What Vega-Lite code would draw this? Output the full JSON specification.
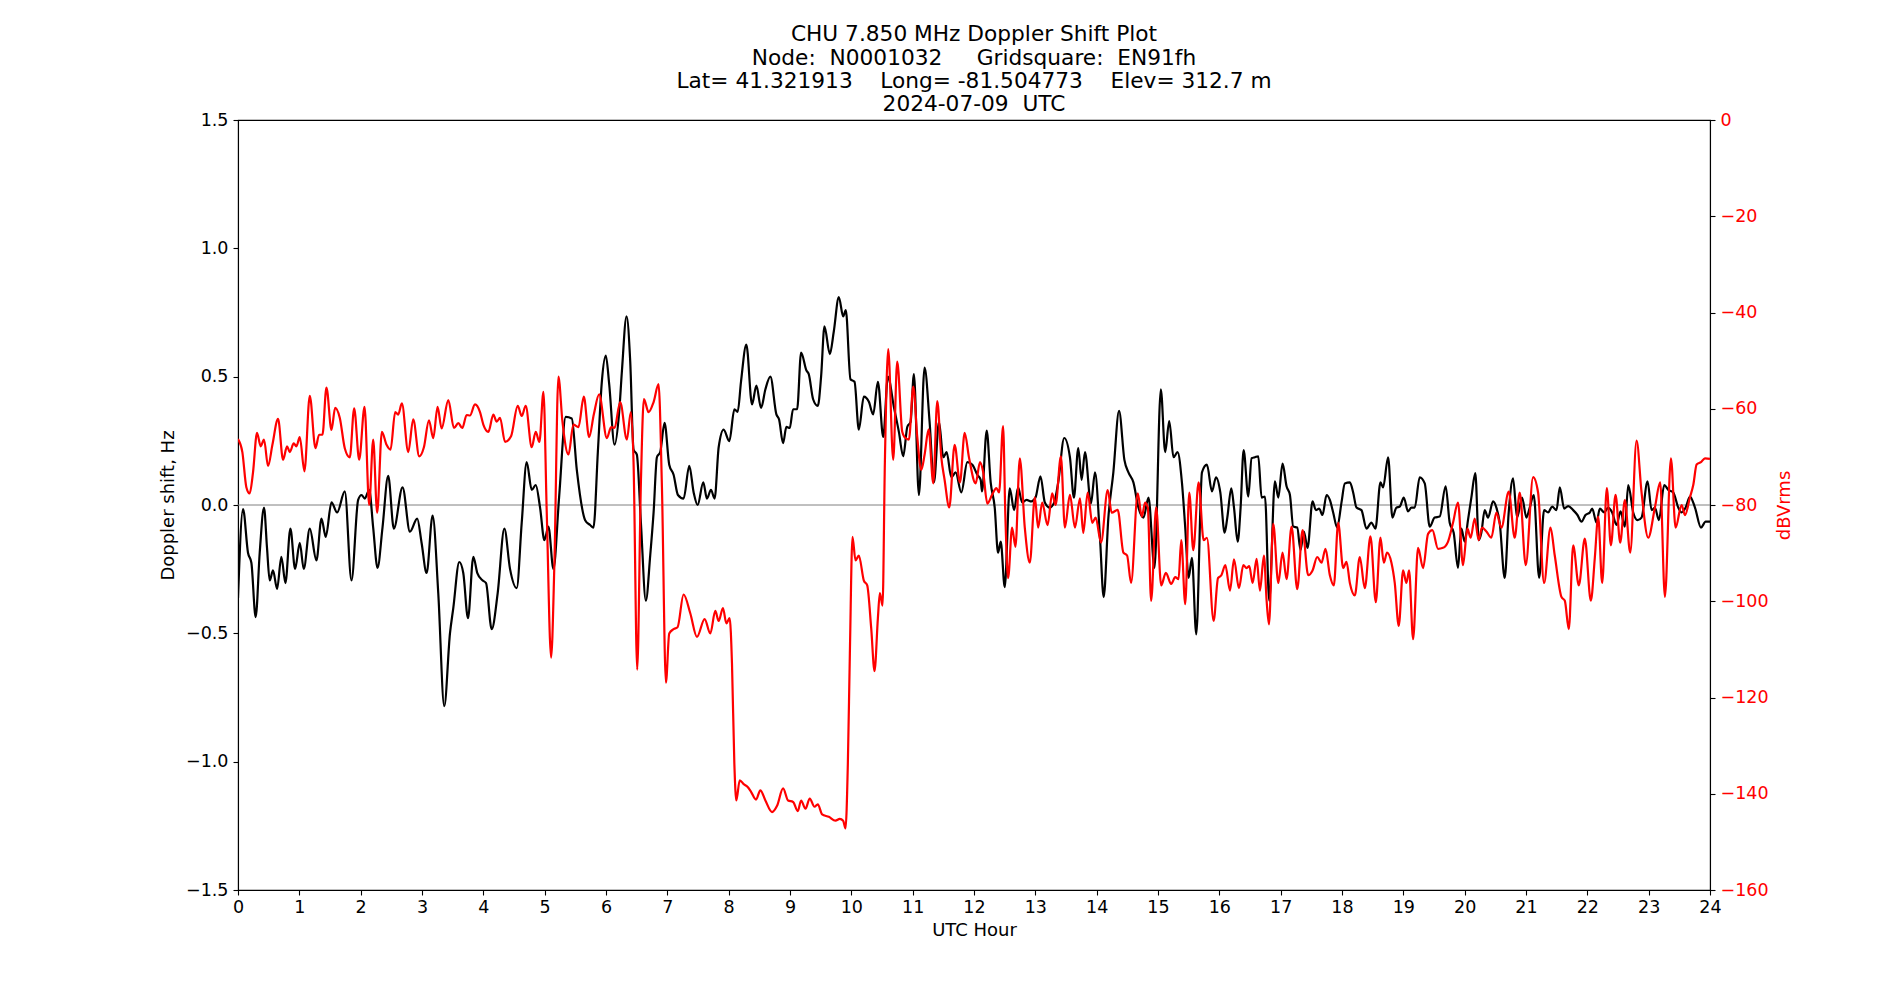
{
  "$schema": "https://vega.github.io/schema/vega-lite/v6.json",
  "autosize": {"type": "none"},
  "padding": {"left": 238, "top": 120, "right": 190, "bottom": 110},
  "width": 1472,
  "height": 770,
  "background": "white",
  "title": {
    "text": ["CHU 7.850 MHz Doppler Shift Plot", "Node:\u00a0 N0001032 \u00a0\u00a0\u00a0 Gridsquare:\u00a0 EN91fh", "Lat= 41.321913 \u00a0\u00a0 Long= -81.504773 \u00a0\u00a0 Elev= 312.7 m", "2024-07-09\u00a0 UTC"],
    "anchor": "middle",
    "frame": "group",
    "font": "DejaVu Sans",
    "fontSize": 21.7,
    "fontWeight": "normal",
    "color": "black",
    "lineHeight": 23.3,
    "offset": -5
  },
  "datasets": {
    "doppler": [
      {"hour":0,"shift":-0.363},{"hour":0.082,"shift":-0.016},{"hour":0.163,"shift":-0.186},{"hour":0.218,"shift":-0.225},{"hour":0.288,"shift":-0.437},{"hour":0.354,"shift":-0.186},{"hour":0.424,"shift":-0.010},{"hour":0.473,"shift":-0.167},{"hour":0.517,"shift":-0.294},{"hour":0.571,"shift":-0.255},{"hour":0.637,"shift":-0.327},{"hour":0.707,"shift":-0.202},{"hour":0.773,"shift":-0.304},{"hour":0.854,"shift":-0.092},{"hour":0.931,"shift":-0.249},{"hour":1.007,"shift":-0.147},{"hour":1.072,"shift":-0.249},{"hour":1.170,"shift":-0.092},{"hour":1.279,"shift":-0.216},{"hour":1.361,"shift":-0.053},{"hour":1.431,"shift":-0.124},{"hour":1.524,"shift":0.010},{"hour":1.616,"shift":-0.029},{"hour":1.741,"shift":0.053},{"hour":1.850,"shift":-0.294},{"hour":1.959,"shift":0.020},{"hour":2.014,"shift":0.039},{"hour":2.068,"shift":0.025},{"hour":2.139,"shift":0.059},{"hour":2.204,"shift":-0.088},{"hour":2.275,"shift":-0.245},{"hour":2.356,"shift":-0.088},{"hour":2.449,"shift":0.114},{"hour":2.541,"shift":-0.092},{"hour":2.683,"shift":0.069},{"hour":2.803,"shift":-0.104},{"hour":2.922,"shift":-0.053},{"hour":2.993,"shift":-0.147},{"hour":3.075,"shift":-0.265},{"hour":3.173,"shift":-0.041},{"hour":3.265,"shift":-0.343},{"hour":3.363,"shift":-0.784},{"hour":3.456,"shift":-0.5},{"hour":3.510,"shift":-0.402},{"hour":3.608,"shift":-0.222},{"hour":3.673,"shift":-0.265},{"hour":3.750,"shift":-0.441},{"hour":3.837,"shift":-0.202},{"hour":3.902,"shift":-0.265},{"hour":3.989,"shift":-0.294},{"hour":4.044,"shift":-0.304},
      {"hour":4.136,"shift":-0.484},{"hour":4.234,"shift":-0.343},{"hour":4.343,"shift":-0.092},{"hour":4.435,"shift":-0.249},{"hour":4.544,"shift":-0.324},{"hour":4.626,"shift":-0.069},{"hour":4.707,"shift":0.167},{"hour":4.789,"shift":0.059},{"hour":4.854,"shift":0.078},{"hour":4.925,"shift":-0.010},{"hour":4.996,"shift":-0.137},{"hour":5.061,"shift":-0.084},{"hour":5.143,"shift":-0.249},{"hour":5.235,"shift":0.029},{"hour":5.344,"shift":0.343},{"hour":5.442,"shift":0.337},{"hour":5.524,"shift":0.137},{"hour":5.660,"shift":-0.059},{"hour":5.741,"shift":-0.078},{"hour":5.796,"shift":-0.088},{"hour":5.867,"shift":0.206},{"hour":5.932,"shift":0.480},{"hour":5.997,"shift":0.582},{"hour":6.052,"shift":0.471},{"hour":6.139,"shift":0.235},{"hour":6.215,"shift":0.363},{"hour":6.259,"shift":0.520},{"hour":6.335,"shift":0.735},{"hour":6.395,"shift":0.559},{"hour":6.449,"shift":0.216},{"hour":6.503,"shift":0.196},{"hour":6.569,"shift":-0.069},{"hour":6.650,"shift":-0.373},{"hour":6.721,"shift":-0.196},{"hour":6.776,"shift":-0.029},{"hour":6.830,"shift":0.186},{"hour":6.884,"shift":0.206},{"hour":6.955,"shift":0.320},{"hour":7.031,"shift":0.157},{"hour":7.102,"shift":0.118},{"hour":7.173,"shift":0.039},{"hour":7.265,"shift":0.025},{"hour":7.358,"shift":0.153},{"hour":7.429,"shift":0.049},{"hour":7.494,"shift":0.0},{"hour":7.586,"shift":0.088},{"hour":7.646,"shift":0.025},{"hour":7.711,"shift":0.059},{"hour":7.771,"shift":0.025},{"hour":7.837,"shift":0.225},{"hour":7.918,"shift":0.294},{"hour":8.011,"shift":0.249},
      {"hour":8.093,"shift":0.373},{"hour":8.147,"shift":0.363},{"hour":8.201,"shift":0.480},{"hour":8.288,"shift":0.625},{"hour":8.381,"shift":0.392},{"hour":8.452,"shift":0.465},{"hour":8.528,"shift":0.378},{"hour":8.599,"shift":0.451},{"hour":8.680,"shift":0.5},{"hour":8.778,"shift":0.353},{"hour":8.822,"shift":0.333},{"hour":8.887,"shift":0.241},{"hour":8.941,"shift":0.304},{"hour":8.996,"shift":0.300},{"hour":9.050,"shift":0.373},{"hour":9.116,"shift":0.373},{"hour":9.181,"shift":0.594},{"hour":9.268,"shift":0.524},{"hour":9.306,"shift":0.510},{"hour":9.377,"shift":0.412},{"hour":9.453,"shift":0.386},{"hour":9.507,"shift":0.5},{"hour":9.562,"shift":0.696},{"hour":9.649,"shift":0.588},{"hour":9.714,"shift":0.676},{"hour":9.796,"shift":0.810},{"hour":9.867,"shift":0.735},{"hour":9.910,"shift":0.759},{"hour":9.986,"shift":0.490},{"hour":10.052,"shift":0.480},{"hour":10.122,"shift":0.294},{"hour":10.204,"shift":0.422},{"hour":10.286,"shift":0.402},{"hour":10.356,"shift":0.353},{"hour":10.433,"shift":0.480},{"hour":10.520,"shift":0.265},{"hour":10.596,"shift":0.5},{"hour":10.694,"shift":0.382},{"hour":10.776,"shift":0.284},{"hour":10.846,"shift":0.190},{"hour":10.912,"shift":0.304},{"hour":10.966,"shift":0.324},{"hour":11.020,"shift":0.510},{"hour":11.102,"shift":0.039},{"hour":11.194,"shift":0.535},{"hour":11.276,"shift":0.324},{"hour":11.347,"shift":0.088},{"hour":11.429,"shift":0.324},{"hour":11.499,"shift":0.186},{"hour":11.554,"shift":0.206},{"hour":11.630,"shift":0.108},{"hour":11.701,"shift":0.127},{"hour":11.793,"shift":0.049},{"hour":11.891,"shift":0.167},{"hour":11.973,"shift":0.157},{"hour":12.054,"shift":0.118},{"hour":12.109,"shift":0.098},
      {"hour":12.131,"shift":0.053},{"hour":12.207,"shift":0.290},{"hour":12.272,"shift":0.088},{"hour":12.338,"shift":-0.010},{"hour":12.392,"shift":-0.186},{"hour":12.436,"shift":-0.143},{"hour":12.501,"shift":-0.320},{"hour":12.583,"shift":0.065},{"hour":12.654,"shift":-0.020},{"hour":12.719,"shift":0.069},{"hour":12.785,"shift":0.010},{"hour":12.856,"shift":0.020},{"hour":12.937,"shift":0.014},{"hour":13.003,"shift":0.029},{"hour":13.084,"shift":0.112},{"hour":13.155,"shift":0.010},{"hour":13.237,"shift":-0.010},{"hour":13.308,"shift":0.010},{"hour":13.373,"shift":0.088},{"hour":13.471,"shift":0.261},{"hour":13.564,"shift":0.186},{"hour":13.629,"shift":0.029},{"hour":13.700,"shift":0.222},{"hour":13.755,"shift":0.098},{"hour":13.809,"shift":0.206},{"hour":13.907,"shift":0.006},{"hour":13.973,"shift":0.127},{"hour":14.054,"shift":-0.127},{"hour":14.114,"shift":-0.359},{"hour":14.191,"shift":-0.049},{"hour":14.272,"shift":0.127},{"hour":14.365,"shift":0.367},{"hour":14.452,"shift":0.176},{"hour":14.518,"shift":0.127},{"hour":14.599,"shift":0.088},{"hour":14.681,"shift":-0.010},{"hour":14.763,"shift":-0.049},{"hour":14.845,"shift":0.029},{"hour":14.943,"shift":-0.245},{"hour":15.046,"shift":0.451},{"hour":15.117,"shift":0.206},{"hour":15.183,"shift":0.327},{"hour":15.253,"shift":0.186},{"hour":15.319,"shift":0.206},{"hour":15.390,"shift":0.088},{"hour":15.444,"shift":-0.088},{"hour":15.499,"shift":-0.284},{"hour":15.553,"shift":-0.206},{"hour":15.624,"shift":-0.504},{"hour":15.717,"shift":0.127},{"hour":15.798,"shift":0.157},{"hour":15.880,"shift":0.053},{"hour":15.946,"shift":0.108},{"hour":16.016,"shift":0.049},{"hour":16.087,"shift":-0.108},
      {"hour":16.130,"shift":-0.049},{"hour":16.195,"shift":0.065},{"hour":16.239,"shift":-0.010},{"hour":16.299,"shift":-0.143},{"hour":16.347,"shift":-0.010},{"hour":16.396,"shift":0.214},{"hour":16.472,"shift":0.033},{"hour":16.526,"shift":0.182},{"hour":16.581,"shift":0.186},{"hour":16.635,"shift":0.190},{"hour":16.689,"shift":0.029},{"hour":16.744,"shift":0.033},{"hour":16.814,"shift":-0.373},{"hour":16.906,"shift":0.092},{"hour":16.961,"shift":0.029},{"hour":17.031,"shift":0.161},{"hour":17.096,"shift":0.073},{"hour":17.151,"shift":0.039},{"hour":17.205,"shift":-0.084},{"hour":17.270,"shift":-0.088},{"hour":17.324,"shift":-0.176},{"hour":17.378,"shift":-0.104},{"hour":17.438,"shift":-0.167},{"hour":17.520,"shift":0.014},{"hour":17.574,"shift":-0.020},{"hour":17.628,"shift":-0.014},{"hour":17.682,"shift":-0.039},{"hour":17.748,"shift":0.039},{"hour":17.802,"shift":0.020},{"hour":17.856,"shift":-0.029},{"hour":17.921,"shift":-0.088},{"hour":17.992,"shift":0.010},{"hour":18.046,"shift":0.084},{"hour":18.128,"shift":0.088},{"hour":18.182,"shift":0.049},{"hour":18.236,"shift":-0.010},{"hour":18.317,"shift":-0.020},{"hour":18.399,"shift":-0.092},{"hour":18.480,"shift":-0.069},{"hour":18.545,"shift":-0.092},{"hour":18.627,"shift":0.088},{"hour":18.670,"shift":0.069},{"hour":18.752,"shift":0.186},{"hour":18.822,"shift":-0.049},{"hour":18.887,"shift":-0.010},{"hour":18.942,"shift":-0.006},{"hour":19.007,"shift":0.029},{"hour":19.077,"shift":-0.025},{"hour":19.132,"shift":-0.010},{"hour":19.186,"shift":-0.010},{"hour":19.267,"shift":0.108},{"hour":19.349,"shift":0.084},{"hour":19.430,"shift":-0.084},{"hour":19.511,"shift":-0.049},{"hour":19.593,"shift":-0.045},{"hour":19.690,"shift":0.073},{"hour":19.756,"shift":-0.069},{"hour":19.821,"shift":-0.108},{"hour":19.891,"shift":-0.245},{"hour":19.946,"shift":-0.092},{"hour":20.000,"shift":-0.143},{"hour":20.054,"shift":-0.059},
      {"hour":20.109,"shift":0.029},{"hour":20.174,"shift":0.124},{"hour":20.229,"shift":-0.137},{"hour":20.272,"shift":-0.108},{"hour":20.327,"shift":-0.020},{"hour":20.381,"shift":-0.049},{"hour":20.463,"shift":0.014},{"hour":20.517,"shift":-0.010},{"hour":20.571,"shift":-0.069},{"hour":20.653,"shift":-0.284},{"hour":20.718,"shift":-0.029},{"hour":20.789,"shift":0.104},{"hour":20.854,"shift":-0.049},{"hour":20.936,"shift":0.029},{"hour":21.007,"shift":-0.049},{"hour":21.061,"shift":-0.010},{"hour":21.127,"shift":0.039},{"hour":21.214,"shift":-0.284},{"hour":21.295,"shift":-0.020},{"hour":21.361,"shift":-0.029},{"hour":21.426,"shift":-0.006},{"hour":21.497,"shift":-0.020},{"hour":21.551,"shift":0.069},{"hour":21.622,"shift":-0.014},{"hour":21.687,"shift":-0.004},{"hour":21.769,"shift":-0.020},{"hour":21.839,"shift":-0.039},{"hour":21.905,"shift":-0.065},{"hour":21.970,"shift":-0.039},{"hour":22.041,"shift":-0.029},{"hour":22.079,"shift":-0.014},{"hour":22.150,"shift":-0.069},{"hour":22.204,"shift":-0.014},{"hour":22.275,"shift":-0.029},{"hour":22.340,"shift":-0.010},{"hour":22.405,"shift":-0.029},{"hour":22.476,"shift":-0.078},{"hour":22.541,"shift":-0.025},{"hour":22.612,"shift":-0.084},{"hour":22.667,"shift":0.078},{"hour":22.748,"shift":-0.029},{"hour":22.819,"shift":-0.059},{"hour":22.884,"shift":-0.049},{"hour":22.982,"shift":0.092},{"hour":23.048,"shift":-0.020},{"hour":23.102,"shift":-0.010},{"hour":23.167,"shift":-0.059},{"hour":23.254,"shift":0.078},{"hour":23.320,"shift":0.059},{"hour":23.401,"shift":0.049},{"hour":23.483,"shift":-0.010},{"hour":23.537,"shift":-0.029},{"hour":23.603,"shift":-0.010},{"hour":23.673,"shift":0.033},{"hour":23.755,"shift":-0.010},{"hour":23.853,"shift":-0.088},{"hour":23.929,"shift":-0.065},{"hour":24.0,"shift":-0.065}
    ],
    "power": [
      {"hour":0.0,"dbv":-66.3},{"hour":0.071,"dbv":-69.0},{"hour":0.136,"dbv":-76.3},{"hour":0.190,"dbv":-77.6},{"hour":0.245,"dbv":-73.2},{"hour":0.310,"dbv":-65.0},{"hour":0.370,"dbv":-67.8},{"hour":0.424,"dbv":-66.4},{"hour":0.490,"dbv":-71.9},{"hour":0.561,"dbv":-67.5},{"hour":0.653,"dbv":-62.1},{"hour":0.735,"dbv":-70.6},{"hour":0.800,"dbv":-67.8},{"hour":0.844,"dbv":-69.0},{"hour":0.909,"dbv":-67.2},{"hour":0.952,"dbv":-67.8},{"hour":1.007,"dbv":-65.9},{"hour":1.083,"dbv":-73.0},{"hour":1.170,"dbv":-57.3},{"hour":1.263,"dbv":-68.2},{"hour":1.322,"dbv":-65.4},{"hour":1.377,"dbv":-65.4},{"hour":1.442,"dbv":-55.6},{"hour":1.524,"dbv":-64.4},{"hour":1.584,"dbv":-59.8},{"hour":1.660,"dbv":-61.9},{"hour":1.741,"dbv":-68.2},{"hour":1.823,"dbv":-70.1},{"hour":1.894,"dbv":-59.9},{"hour":1.976,"dbv":-70.6},{"hour":2.063,"dbv":-59.6},{"hour":2.139,"dbv":-80.0},{"hour":2.204,"dbv":-66.4},{"hour":2.269,"dbv":-81.6},{"hour":2.346,"dbv":-64.8},{"hour":2.422,"dbv":-67.5},{"hour":2.487,"dbv":-68.5},{"hour":2.563,"dbv":-60.7},{"hour":2.612,"dbv":-61.2},{"hour":2.672,"dbv":-58.9},{"hour":2.776,"dbv":-69.0},{"hour":2.857,"dbv":-62.2},{"hour":2.955,"dbv":-69.9},{"hour":3.031,"dbv":-68.0},{"hour":3.113,"dbv":-62.4},{"hour":3.184,"dbv":-66.1},{"hour":3.254,"dbv":-59.6},{"hour":3.320,"dbv":-64.1},{"hour":3.429,"dbv":-58.2},{"hour":3.521,"dbv":-64.0},{"hour":3.592,"dbv":-63.0},{"hour":3.657,"dbv":-64.0},{"hour":3.728,"dbv":-61.3},{"hour":3.782,"dbv":-61.4},{"hour":3.864,"dbv":-59.1},
      {"hour":3.946,"dbv":-60.7},{"hour":4.0,"dbv":-63.3},{"hour":4.082,"dbv":-64.8},{"hour":4.163,"dbv":-61.2},{"hour":4.218,"dbv":-62.7},{"hour":4.272,"dbv":-61.9},{"hour":4.354,"dbv":-66.9},{"hour":4.452,"dbv":-65.7},{"hour":4.561,"dbv":-59.4},{"hour":4.626,"dbv":-61.5},{"hour":4.691,"dbv":-59.4},{"hour":4.789,"dbv":-68.0},{"hour":4.854,"dbv":-64.8},{"hour":4.914,"dbv":-66.9},{"hour":4.980,"dbv":-56.5},{"hour":5.034,"dbv":-81.6},{"hour":5.105,"dbv":-111.7},{"hour":5.159,"dbv":-92.0},{"hour":5.224,"dbv":-53.3},{"hour":5.290,"dbv":-62.7},{"hour":5.388,"dbv":-69.5},{"hour":5.469,"dbv":-63.3},{"hour":5.551,"dbv":-63.8},{"hour":5.638,"dbv":-57.5},{"hour":5.725,"dbv":-65.9},{"hour":5.801,"dbv":-61.2},{"hour":5.888,"dbv":-57.0},{"hour":6.014,"dbv":-66.1},{"hour":6.084,"dbv":-63.8},{"hour":6.139,"dbv":-64.0},{"hour":6.231,"dbv":-58.6},{"hour":6.340,"dbv":-66.4},{"hour":6.405,"dbv":-60.7},{"hour":6.449,"dbv":-71.1},{"hour":6.509,"dbv":-114.2},{"hour":6.569,"dbv":-75.3},{"hour":6.618,"dbv":-58.0},{"hour":6.694,"dbv":-60.7},{"hour":6.776,"dbv":-58.6},{"hour":6.857,"dbv":-54.9},{"hour":6.912,"dbv":-76.3},{"hour":6.977,"dbv":-116.9},{"hour":7.031,"dbv":-106.7},{"hour":7.102,"dbv":-105.8},{"hour":7.167,"dbv":-105.4},{"hour":7.265,"dbv":-98.6},{"hour":7.374,"dbv":-102.5},{"hour":7.483,"dbv":-107.4},{"hour":7.608,"dbv":-103.7},{"hour":7.701,"dbv":-106.7},{"hour":7.782,"dbv":-102.0},{"hour":7.837,"dbv":-104.1},{"hour":7.907,"dbv":-101.4},
      {"hour":7.962,"dbv":-104.6},{"hour":8.016,"dbv":-103.5},{"hour":8.054,"dbv":-112.9},{"hour":8.093,"dbv":-133.9},{"hour":8.125,"dbv":-141.4},{"hour":8.180,"dbv":-137.2},{"hour":8.245,"dbv":-138.0},{"hour":8.310,"dbv":-138.6},{"hour":8.365,"dbv":-139.6},{"hour":8.446,"dbv":-141.2},{"hour":8.517,"dbv":-139.3},{"hour":8.599,"dbv":-141.4},{"hour":8.707,"dbv":-143.8},{"hour":8.789,"dbv":-142.5},{"hour":8.887,"dbv":-138.9},{"hour":8.969,"dbv":-141.4},{"hour":9.050,"dbv":-141.7},{"hour":9.127,"dbv":-143.6},{"hour":9.181,"dbv":-141.4},{"hour":9.252,"dbv":-143.1},{"hour":9.322,"dbv":-141.0},{"hour":9.399,"dbv":-142.7},{"hour":9.453,"dbv":-142.2},{"hour":9.524,"dbv":-144.3},{"hour":9.633,"dbv":-144.8},{"hour":9.741,"dbv":-145.6},{"hour":9.812,"dbv":-145.2},{"hour":9.867,"dbv":-145.6},{"hour":9.905,"dbv":-147.2},{"hour":9.943,"dbv":-133.9},{"hour":9.976,"dbv":-110.9},{"hour":10.019,"dbv":-86.6},{"hour":10.068,"dbv":-91.5},{"hour":10.122,"dbv":-90.5},{"hour":10.204,"dbv":-95.7},{"hour":10.259,"dbv":-96.7},{"hour":10.324,"dbv":-105.6},{"hour":10.378,"dbv":-114.5},{"hour":10.433,"dbv":-103.5},{"hour":10.465,"dbv":-98.3},{"hour":10.509,"dbv":-100.9},{"hour":10.547,"dbv":-71.1},{"hour":10.601,"dbv":-47.6},{"hour":10.683,"dbv":-70.6},{"hour":10.748,"dbv":-50.2},{"hour":10.830,"dbv":-64.8},{"hour":10.868,"dbv":-65.9},{"hour":10.939,"dbv":-66.4},{"hour":11.010,"dbv":-55.4},{"hour":11.075,"dbv":-65.9},{"hour":11.140,"dbv":-72.7},{"hour":11.195,"dbv":-69.5},{"hour":11.260,"dbv":-64.3},{"hour":11.336,"dbv":-75.5},{"hour":11.401,"dbv":-58.4},{"hour":11.467,"dbv":-70.1},{"hour":11.521,"dbv":-74.8},{"hour":11.597,"dbv":-80.5},{"hour":11.684,"dbv":-67.5},{"hour":11.771,"dbv":-75.3},{"hour":11.848,"dbv":-65.0},{"hour":11.918,"dbv":-70.1},{"hour":12.027,"dbv":-75.5},{"hour":12.098,"dbv":-71.1},
      {"hour":12.147,"dbv":-73.0},{"hour":12.218,"dbv":-79.7},{"hour":12.294,"dbv":-77.9},{"hour":12.365,"dbv":-76.5},{"hour":12.409,"dbv":-77.4},{"hour":12.474,"dbv":-63.6},{"hour":12.512,"dbv":-82.6},{"hour":12.556,"dbv":-95.2},{"hour":12.621,"dbv":-84.7},{"hour":12.676,"dbv":-88.7},{"hour":12.747,"dbv":-70.3},{"hour":12.828,"dbv":-84.7},{"hour":12.910,"dbv":-92.0},{"hour":12.992,"dbv":-78.4},{"hour":13.046,"dbv":-84.7},{"hour":13.112,"dbv":-79.5},{"hour":13.199,"dbv":-84.2},{"hour":13.275,"dbv":-77.6},{"hour":13.330,"dbv":-80.0},{"hour":13.417,"dbv":-69.9},{"hour":13.482,"dbv":-84.7},{"hour":13.564,"dbv":-77.9},{"hour":13.646,"dbv":-84.7},{"hour":13.728,"dbv":-78.6},{"hour":13.782,"dbv":-85.8},{"hour":13.853,"dbv":-77.4},{"hour":13.929,"dbv":-83.7},{"hour":13.984,"dbv":-82.6},{"hour":14.071,"dbv":-87.8},{"hour":14.180,"dbv":-76.9},{"hour":14.245,"dbv":-81.6},{"hour":14.343,"dbv":-81.0},{"hour":14.436,"dbv":-89.9},{"hour":14.496,"dbv":-90.5},{"hour":14.561,"dbv":-96.2},{"hour":14.670,"dbv":-77.6},{"hour":14.736,"dbv":-82.4},{"hour":14.790,"dbv":-79.5},{"hour":14.834,"dbv":-80.5},{"hour":14.888,"dbv":-99.9},{"hour":14.970,"dbv":-80.5},{"hour":15.052,"dbv":-96.7},{"hour":15.128,"dbv":-94.1},{"hour":15.215,"dbv":-96.4},{"hour":15.281,"dbv":-95.0},{"hour":15.335,"dbv":-95.4},{"hour":15.379,"dbv":-87.3},{"hour":15.444,"dbv":-100.6},{"hour":15.510,"dbv":-77.4},{"hour":15.575,"dbv":-89.4},{"hour":15.662,"dbv":-75.3},{"hour":15.744,"dbv":-87.3},{"hour":15.798,"dbv":-86.8},{"hour":15.907,"dbv":-104.1},{"hour":15.978,"dbv":-95.2},{"hour":16.033,"dbv":-94.6},{"hour":16.098,"dbv":-92.5},
      {"hour":16.174,"dbv":-97.8},{"hour":16.239,"dbv":-91.3},{"hour":16.320,"dbv":-97.3},{"hour":16.391,"dbv":-92.5},{"hour":16.445,"dbv":-93.1},{"hour":16.488,"dbv":-92.7},{"hour":16.543,"dbv":-96.2},{"hour":16.608,"dbv":-91.2},{"hour":16.662,"dbv":-97.8},{"hour":16.727,"dbv":-90.5},{"hour":16.771,"dbv":-99.9},{"hour":16.809,"dbv":-104.8},{"hour":16.879,"dbv":-83.9},{"hour":16.961,"dbv":-96.2},{"hour":17.031,"dbv":-89.9},{"hour":17.096,"dbv":-95.4},{"hour":17.178,"dbv":-84.5},{"hour":17.270,"dbv":-97.5},{"hour":17.357,"dbv":-85.2},{"hour":17.449,"dbv":-94.6},{"hour":17.520,"dbv":-93.6},{"hour":17.596,"dbv":-90.8},{"hour":17.666,"dbv":-92.0},{"hour":17.731,"dbv":-89.1},{"hour":17.802,"dbv":-94.6},{"hour":17.867,"dbv":-96.7},{"hour":17.938,"dbv":-83.7},{"hour":18.019,"dbv":-93.1},{"hour":18.073,"dbv":-91.8},{"hour":18.128,"dbv":-96.2},{"hour":18.209,"dbv":-98.8},{"hour":18.290,"dbv":-90.8},{"hour":18.372,"dbv":-97.3},{"hour":18.464,"dbv":-86.5},{"hour":18.551,"dbv":-100.2},{"hour":18.627,"dbv":-86.8},{"hour":18.681,"dbv":-92.0},{"hour":18.735,"dbv":-89.9},{"hour":18.806,"dbv":-92.0},{"hour":18.860,"dbv":-96.2},{"hour":18.925,"dbv":-105.1},{"hour":18.996,"dbv":-93.6},{"hour":19.050,"dbv":-96.2},{"hour":19.094,"dbv":-93.6},{"hour":19.159,"dbv":-107.9},{"hour":19.240,"dbv":-88.9},{"hour":19.322,"dbv":-93.1},{"hour":19.403,"dbv":-86.0},{"hour":19.474,"dbv":-85.2},{"hour":19.566,"dbv":-89.1},{"hour":19.647,"dbv":-88.9},{"hour":19.729,"dbv":-87.6},{"hour":19.810,"dbv":-83.7},
      {"hour":19.891,"dbv":-79.5},{"hour":19.973,"dbv":-92.5},{"hour":20.044,"dbv":-84.9},{"hour":20.098,"dbv":-86.8},{"hour":20.163,"dbv":-82.8},{"hour":20.229,"dbv":-87.3},{"hour":20.283,"dbv":-84.7},{"hour":20.354,"dbv":-85.5},{"hour":20.435,"dbv":-86.8},{"hour":20.517,"dbv":-81.6},{"hour":20.599,"dbv":-84.7},{"hour":20.718,"dbv":-77.2},{"hour":20.816,"dbv":-86.8},{"hour":20.898,"dbv":-77.4},{"hour":20.996,"dbv":-92.5},{"hour":21.116,"dbv":-74.2},{"hour":21.197,"dbv":-77.4},{"hour":21.295,"dbv":-96.2},{"hour":21.399,"dbv":-84.7},{"hour":21.469,"dbv":-90.5},{"hour":21.578,"dbv":-99.1},{"hour":21.633,"dbv":-99.9},{"hour":21.698,"dbv":-105.8},{"hour":21.769,"dbv":-88.4},{"hour":21.861,"dbv":-96.7},{"hour":21.959,"dbv":-87.0},{"hour":22.057,"dbv":-99.9},{"hour":22.122,"dbv":-91.0},{"hour":22.177,"dbv":-82.4},{"hour":22.242,"dbv":-96.2},{"hour":22.318,"dbv":-76.5},{"hour":22.384,"dbv":-88.4},{"hour":22.460,"dbv":-77.9},{"hour":22.536,"dbv":-87.8},{"hour":22.612,"dbv":-79.0},{"hour":22.699,"dbv":-89.9},{"hour":22.803,"dbv":-66.6},{"hour":22.884,"dbv":-77.4},{"hour":22.993,"dbv":-86.8},{"hour":23.102,"dbv":-80.5},{"hour":23.188,"dbv":-75.3},{"hour":23.265,"dbv":-99.1},{"hour":23.363,"dbv":-70.3},{"hour":23.439,"dbv":-84.7},{"hour":23.537,"dbv":-80.0},{"hour":23.592,"dbv":-82.1},{"hour":23.673,"dbv":-78.4},{"hour":23.728,"dbv":-75.8},{"hour":23.782,"dbv":-71.6},{"hour":23.853,"dbv":-71.1},{"hour":23.918,"dbv":-70.3},{"hour":24.0,"dbv":-70.4}
    ]
  },
  "layer": [
    {
      "layer": [
        {
          "data": {"values": [{}]},
          "mark": {"type": "rule", "color": "#808080", "strokeWidth": 1},
          "encoding": {
            "y": {"datum": 0, "type": "quantitative", "scale": {"domain": [-1.5, 1.5], "nice": false, "zero": false},
                  "axis": {"title": "Doppler shift, Hz", "values": [-1.5,-1,-0.5,0,0.5,1,1.5], "format": ".1f", "labelFlush": false, "labelOverlap": false, "titlePadding": 8}}
          }
        },
        {
          "data": {"name": "doppler"},
          "mark": {"type": "line", "color": "black", "strokeWidth": 2.2, "interpolate": "monotone", "clip": true},
          "encoding": {
            "x": {"field": "hour", "type": "quantitative", "scale": {"domain": [0, 24], "nice": false, "zero": false},
                  "axis": {"title": "UTC Hour", "values": [0,1,2,3,4,5,6,7,8,9,10,11,12,13,14,15,16,17,18,19,20,21,22,23,24], "format": "d", "labelFlush": false, "labelOverlap": false, "labelPadding": 3, "titlePadding": 6}},
            "y": {"field": "shift", "type": "quantitative", "scale": {"domain": [-1.5, 1.5], "nice": false, "zero": false},
                  "axis": {"title": "Doppler shift, Hz", "values": [-1.5,-1,-0.5,0,0.5,1,1.5], "format": ".1f", "labelFlush": false, "labelOverlap": false, "titlePadding": 8}}
          }
        }
      ]
    },
    {
      "data": {"name": "power"},
      "mark": {"type": "line", "color": "#ff0000", "strokeWidth": 2.2, "interpolate": "monotone", "clip": true},
      "encoding": {
        "x": {"field": "hour", "type": "quantitative", "scale": {"domain": [0, 24], "nice": false, "zero": false}},
        "y": {"field": "dbv", "type": "quantitative", "scale": {"domain": [-160, 0], "nice": false, "zero": false},
              "axis": {"orient": "right", "title": "dBVrms", "values": [-160,-140,-120,-100,-80,-60,-40,-20,0], "format": "d", "labelColor": "#ff0000", "titleColor": "#ff0000", "labelFlush": false, "labelOverlap": false, "titleAngle": 270, "titleBaseline": "top", "titlePadding": 7}}
      }
    }
  ],
  "resolve": {"scale": {"y": "independent"}},
  "config": {
    "font": "DejaVu Sans",
    "view": {"stroke": "black", "strokeWidth": 1.1},
    "axis": {
      "grid": false,
      "domainColor": "black",
      "domainWidth": 1.1,
      "tickColor": "black",
      "tickWidth": 1.1,
      "tickSize": 5,
      "labelPadding": 5,
      "labelFont": "DejaVu Sans",
      "labelFontSize": 17.5,
      "labelColor": "black",
      "titleFont": "DejaVu Sans",
      "titleFontSize": 18,
      "titleFontWeight": "normal",
      "titleColor": "black"
    }
  }
}
